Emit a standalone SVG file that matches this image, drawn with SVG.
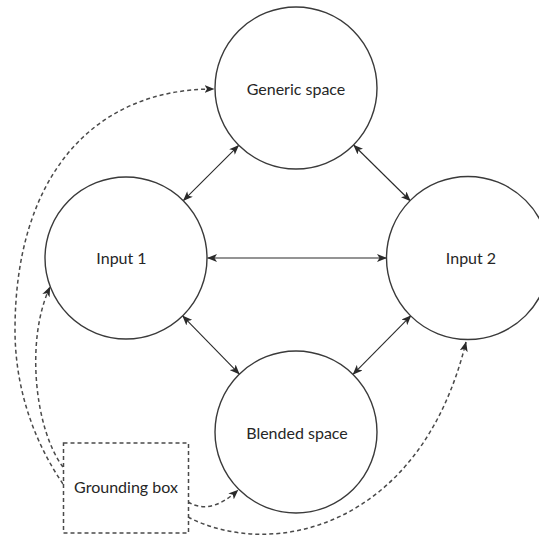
<svg xmlns="http://www.w3.org/2000/svg" width="539" height="535" viewBox="0 0 539 535">
  <style>
    .node { fill: #ffffff; stroke: #3a3a3a; stroke-width: 1.4; }
    .label { font-family: Lato, "Open Sans", "Liberation Sans", sans-serif; font-size: 16px; fill: #262626; text-anchor: middle; }
    .solid { fill: none; stroke: #2a2a2a; stroke-width: 1.1; marker-start: url(#arrow); marker-end: url(#arrow); }
    .dashed { fill: none; stroke: #4a4a4a; stroke-width: 1.5; stroke-dasharray: 4 3; marker-end: url(#arrow); }
    .gbox { fill: #ffffff; stroke: #4a4a4a; stroke-width: 1.5; stroke-dasharray: 4 3; }
  </style>
  <defs>
    <marker id="arrow" viewBox="0 0 10 8" refX="9.5" refY="4" markerWidth="10" markerHeight="8" markerUnits="userSpaceOnUse" orient="auto-start-reverse">
      <path d="M0,0 L10,4 L0,8 L2.5,4 Z" fill="#2a2a2a"/>
    </marker>
  </defs>
  <rect width="539" height="535" fill="#ffffff"/>

  <g id="connectors">
    <line class="solid" x1="238.7" y1="145.3" x2="183.3" y2="200.7"/>
    <line class="solid" x1="353.6" y1="145" x2="410.4" y2="201"/>
    <line class="solid" x1="207.5" y1="258" x2="386.5" y2="258"/>
    <line class="solid" x1="182.6" y1="315.9" x2="239.4" y2="374.1"/>
    <line class="solid" x1="411" y1="315.6" x2="353" y2="374.4"/>
    <path class="dashed" d="M63,484 C33,440 15,387 15,330 C15,180 90,89 214,89"/>
    <path class="dashed" d="M63,467 C35,430 25,340 50,287"/>
    <path class="dashed" d="M188,502 C205,512 222,505 238,490"/>
    <path class="dashed" d="M188,517 C270,560 420,530 466,342"/>
  </g>

  <g id="generic-space">
    <circle class="node" cx="296" cy="88" r="81"/>
    <text class="label" x="296" y="94.5">Generic space</text>
  </g>
  <g id="input-1">
    <circle class="node" cx="126" cy="258" r="81"/>
    <text class="label" x="121.5" y="264">Input 1</text>
  </g>
  <g id="input-2">
    <circle class="node" cx="468" cy="258" r="81.5"/>
    <text class="label" x="471" y="264">Input 2</text>
  </g>
  <g id="blended-space">
    <circle class="node" cx="296" cy="432" r="81"/>
    <text class="label" x="297" y="439">Blended space</text>
  </g>
  <g id="grounding-box">
    <rect class="gbox" x="63.5" y="443" width="125" height="90"/>
    <text class="label" x="126" y="493">Grounding box</text>
  </g>
</svg>
